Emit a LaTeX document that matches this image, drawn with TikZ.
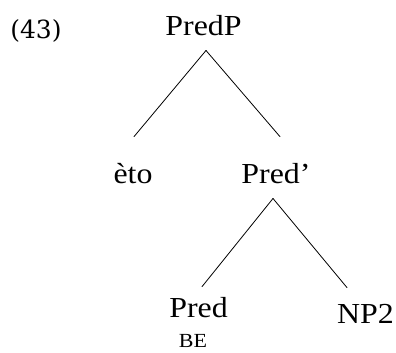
\documentclass[tikz,border=0pt]{standalone}
\usepackage{fontspec}
\setmainfont[FakeStretch=1.1]{Liberation Serif}
\newfontfamily\exfont{DejaVu Serif}
\tikzset{
  cat/.style={inner sep=0pt, anchor=base, font=\fontsize{29}{34}\selectfont},
  feat/.style={inner sep=0pt, anchor=base, font=\fontsize{20}{24}\selectfont},
  branch/.style={line width=0.8pt, line cap=round}
}
\begin{document}
\begin{tikzpicture}[x=1pt,y=-1pt]
    \useasboundingbox (0,0) rectangle (396,353);
    \node[inner sep=0pt, anchor=base, font=\exfont\fontsize{25}{30}\selectfont] (ex) at (36,38) {(43)};
    \node[cat] (predp) at (203.5,36) {PredP};
    \node[cat] (eto) at (133,183) {èto};
    \node[cat] (predbar) at (276,183) {Pred’};
    \node[cat] (pred) at (198.5,317) {Pred};
    \node[cat] (np) at (365.5,323) {NP2};
    \node[feat] (be) at (193,347.5) {BE};
    \draw[branch] ([xshift=2.5pt,yshift=-14pt]predp.south) -- ([xshift=1pt,yshift=26pt]eto.north);
    \draw[branch] ([xshift=2.5pt,yshift=-14pt]predp.south) -- ([xshift=4pt,yshift=26pt]predbar.north);
    \draw[branch] ([xshift=-3pt,yshift=-15pt]predbar.south) -- ([xshift=3.5pt,yshift=10pt]pred.north);
    \draw[branch] ([xshift=-3pt,yshift=-15pt]predbar.south) -- ([xshift=-18.5pt,yshift=16pt]np.north);
\end{tikzpicture}
\end{document}
